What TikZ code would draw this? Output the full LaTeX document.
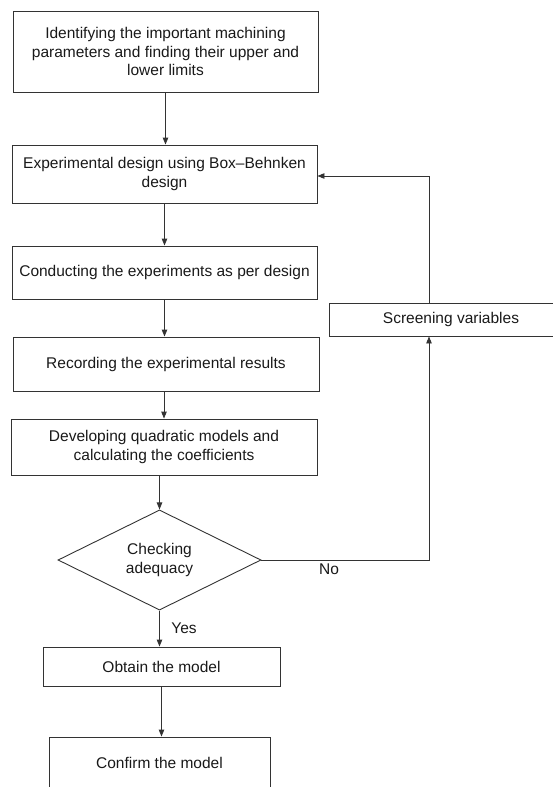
\documentclass[tikz,border=0pt]{standalone}
\usepackage{fontspec}
\setmainfont{Liberation Sans}
\usetikzlibrary{arrows.meta, shapes.geometric}

\begin{document}
\begin{tikzpicture}[x=1pt, y=-1pt, >={Triangle[length=7pt, width=5.5pt]},
	every node/.style = {font=\fontsize{15.5}{18.5}\selectfont, text=black!90},
	stepbox/.style = {draw=black!80, line width=0.9pt, align=center, inner sep=0pt},
	checkbox/.style = {draw=black!80, line width=0.9pt, diamond, align=center, inner sep=0pt, minimum width=203pt, minimum height=93pt},
	flow/.style = {draw=black!80, line width=0.9pt, ->}]
	\useasboundingbox (0,0) rectangle (553,787);
	%%%	Boxes
	\node[stepbox, minimum width=305pt, minimum height=81pt] (limits) at (165.5,51.5) {Identifying the important machining\\parameters and finding their upper and\\lower limits};
	\node[stepbox, minimum width=305pt, minimum height=58pt] (design) at (164.5,174) {Experimental design using Box--Behnken\\design};
	\node[stepbox, minimum width=305pt, minimum height=53pt] (conduct) at (164.5,272.5) {Conducting the experiments as per design};
	\node[stepbox, minimum width=306pt, minimum height=54pt] (record) at (166,364) {Recording the experimental results};
	\node[stepbox, minimum width=306pt, minimum height=56pt] (develop) at (164,447) {Developing quadratic models and\\calculating the coefficients};
	\node[checkbox] (check) at (159.5,560) {Checking\\adequacy};
	\node[stepbox, minimum width=237pt, minimum height=39pt] (obtain) at (161.5,666.5) {Obtain the model};
	\node[stepbox, minimum width=221pt, minimum height=52pt] (confirm) at (159.5,763) {Confirm the model};
	\node[stepbox, minimum width=244pt, minimum height=33pt] (screen) at (451,319.5) {Screening variables};
	%%%	Labels
	\node (no) at (329,569) {No};
	\node (yes) at (184,628) {Yes};
	%%%	Arrows
	\draw[flow] (limits.south) -- (limits.south |- design.north);
	\draw[flow] (design.south) -- (conduct.north);
	\draw[flow] (conduct.south) -- (conduct.south |- record.north);
	\draw[flow] (record.south -| develop.north) -- (develop.north);
	\draw[flow] (develop.south -| check.north) -- (check.north);
	\draw[flow] (check.south) -- (check.south |- obtain.north);
	\draw[flow] (obtain.south) -- (obtain.south |- confirm.north);
	%%%	Feedback loop
	\coordinate (fbbot) at (429,560);
	\coordinate (fbtop) at (429,176);
	\draw[flow] (check.east) -- (fbbot) -- (fbbot |- screen.south);
	\draw[flow] (fbtop |- screen.north) -- (fbtop) -- (fbtop -| design.east);
\end{tikzpicture}
\end{document}
